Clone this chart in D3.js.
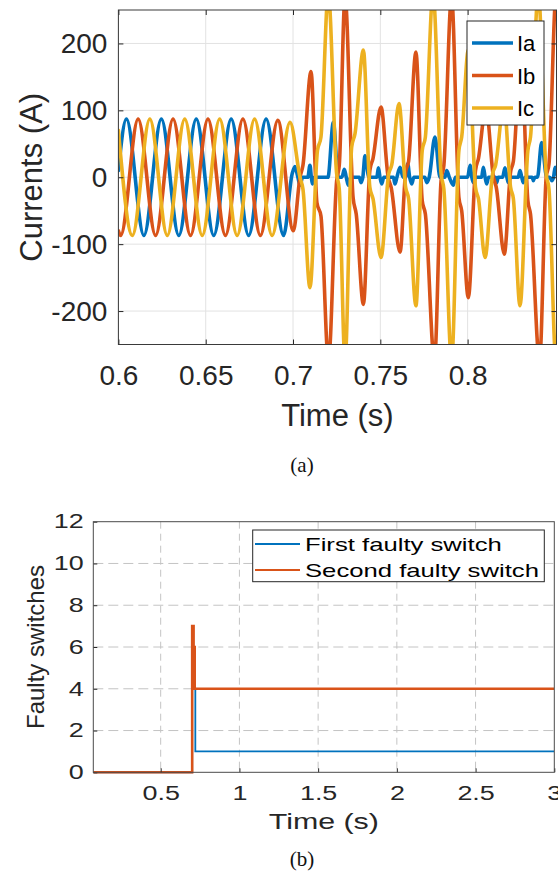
<!DOCTYPE html>
<html>
<head>
<meta charset="utf-8">
<script src="https://cdn.jsdelivr.net/npm/d3@7"></script>
<style>
  html, body { margin: 0; padding: 0; background: #fff; }
  svg { display: block; }
</style>
</head>
<body>
<script>
// ---------- (a) phase currents ----------
const timeTicksA = [0.6, 0.65, 0.7, 0.75, 0.8];
const timeTickLabelsA = ["0.6", "0.65", "0.7", "0.75", "0.8"];
const currentTicks = [-200, -100, 0, 100, 200];
const currentTickLabels = ["-200", "-100", "0", "100", "200"];
const phaseNames = ["Ia", "Ib", "Ic"];

// [time (s), current (A)] knots of each phase current
const currentIa = [
  [0.6, 10], [0.6046, 87], [0.6146, -87], [0.6246, 87], [0.6346, -87], [0.6446, 87],
  [0.6546, -87], [0.6646, 87], [0.6746, -87], [0.6846, 87], [0.6946, -87],
  [0.6995, 5], [0.7011, 16], [0.7028, 0], [0.7040, -12], [0.7055, 0], [0.7085, 0],
  [0.7097, 18], [0.7105, 0], [0.7111, -10], [0.7122, 0], [0.7200, 0], [0.7231, 82],
  [0.7259, 0], [0.7280, 0], [0.7294, 12], [0.7305, 0], [0.7317, -12], [0.7330, 0],
  [0.7380, 0], [0.7389, -8], [0.7400, 0], [0.7412, 32], [0.7435, 0], [0.7480, 0],
  [0.7489, 14], [0.7498, 0], [0.7508, -10], [0.7520, 0], [0.7575, 0], [0.7584, -10],
  [0.7595, 0], [0.7613, 15], [0.7630, 0], [0.7645, 0], [0.7657, 20], [0.7668, 0],
  [0.7680, -10], [0.7692, 0], [0.7755, 0], [0.7766, -8], [0.7780, 0], [0.7813, 60],
  [0.7842, 0], [0.7870, 0], [0.7880, 10], [0.7895, 0], [0.7918, -12], [0.7930, 0],
  [0.8000, 0], [0.8014, 18], [0.8024, 0], [0.8033, -8], [0.8045, 0], [0.8080, 0],
  [0.8090, 15], [0.8100, 0], [0.8109, -10], [0.8120, 0], [0.8160, 0], [0.8167, -8],
  [0.8175, 0], [0.8200, 0], [0.8214, 14], [0.8225, 0], [0.8233, -8], [0.8243, 0],
  [0.8290, 0], [0.8300, 10], [0.8310, 0], [0.8319, -8], [0.8330, 0], [0.8370, 0],
  [0.8376, -5], [0.8385, 0], [0.8400, 0], [0.8424, 52], [0.8453, 0], [0.8470, 0],
  [0.8482, -5], [0.8492, 0], [0.8501, 15], [0.8509, 5]
];
const currentIb = [
  [0.6, -80], [0.6013, -87], [0.6113, 87], [0.6213, -87], [0.6313, 87], [0.6413, -87],
  [0.6513, 87], [0.6613, -87], [0.6713, 87], [0.6813, -87], [0.6913, 85], [0.7002, -80],
  [0.7040, 0], [0.7057, 18], [0.7103, 158], [0.7137, -38], [0.7160, -58], [0.7203, -275],
  [0.7250, -5], [0.7265, 18], [0.7298, 270], [0.7344, -30], [0.7362, -55], [0.7403, -190],
  [0.7440, 10], [0.7458, 28], [0.7504, 105], [0.7545, 0], [0.7562, -15], [0.7613, -112],
  [0.7645, 8], [0.7662, 24], [0.7704, 187], [0.7740, -35], [0.7758, -55], [0.7810, -275],
  [0.7848, -5], [0.7864, 18], [0.7908, 270], [0.7950, -30], [0.7966, -50], [0.8004, -180],
  [0.8045, 10], [0.8062, 28], [0.8105, 105], [0.8148, 0], [0.8164, -15], [0.8210, -115],
  [0.8246, 8], [0.8262, 24], [0.8306, 187], [0.8345, -35], [0.8360, -55], [0.8412, -275],
  [0.8450, 0], [0.8466, 20], [0.8506, 270], [0.8509, 268]
];
const currentIc = [
  [0.6, 70], [0.608, -87], [0.618, 87], [0.628, -87], [0.638, 87], [0.648, -87],
  [0.658, 87], [0.668, -87], [0.678, 87], [0.688, -87], [0.6983, 82],
  [0.7040, 0], [0.7057, -18], [0.7097, -165], [0.7140, 40], [0.7160, 60], [0.7202, 275],
  [0.7250, 5], [0.7265, -18], [0.7298, -275], [0.7336, 45], [0.7355, 65], [0.7403, 190],
  [0.7440, -15], [0.7458, -32], [0.7504, -120], [0.7548, 5], [0.7565, 18], [0.7607, 110],
  [0.7645, -15], [0.7662, -32], [0.7704, -192], [0.7740, 40], [0.7758, 60], [0.7802, 275],
  [0.7848, 5], [0.7864, -18], [0.7908, -275], [0.7950, 40], [0.7966, 60], [0.8004, 190],
  [0.8045, -15], [0.8062, -32], [0.8100, -120], [0.8143, 5], [0.8160, 18], [0.8208, 110],
  [0.8246, -15], [0.8262, -32], [0.8300, -192], [0.8345, 40], [0.8360, 60], [0.8405, 275],
  [0.8450, 5], [0.8466, -18], [0.8506, -275], [0.8509, -270]
];
const phaseColors = ["#0072BD", "#D95319", "#EDB120"];

// ---------- (b) faulty switch indices ----------
const timeTicksB = [0.5, 1, 1.5, 2, 2.5, 3];
const timeTickLabelsB = ["0.5", "1", "1.5", "2", "2.5", "3"];
const switchTicks = [0, 2, 4, 6, 8, 10, 12];
const switchNames = ["First faulty switch", "Second faulty switch"];
const firstSwitchTime = [0.072, 0.700, 0.720, 3.0];
const firstSwitchValue = [0, 4, 1, 1];
const secondSwitchTime = [0.072, 0.700, 0.709, 0.716, 3.0];
const secondSwitchValue = [0, 7, 6, 4, 4];
const switchColors = ["#0072BD", "#D95319"];

const W = 558, H = 875;
const SANS = "'Liberation Sans', Arial, Helvetica, sans-serif";
const SERIF = "'Liberation Serif', 'Times New Roman', serif";
const INK = "#262626";

const svg = d3.select("body").append("svg").attr("width", W).attr("height", H);
svg.append("rect").attr("width", W).attr("height", H).attr("fill", "#fff");

// ================= panel (a) =================
const A = { left: 118.4, right: 556.5, top: 10, bottom: 344.5 };
const xA = d3.scaleLinear().domain([0.6, 0.8509]).range([A.left, A.right]);
const yA = d3.scaleLinear().domain([-250, 250]).range([A.bottom, A.top]);
const gA = svg.append("g");

// grid
gA.append("g").selectAll("line").data(timeTicksA).join("line")
  .attr("x1", d => xA(d)).attr("x2", d => xA(d))
  .attr("y1", A.top).attr("y2", A.bottom)
  .attr("stroke", "#e2e2e2").attr("stroke-width", 1);
gA.append("g").selectAll("line").data(currentTicks).join("line")
  .attr("x1", A.left).attr("x2", A.right)
  .attr("y1", d => yA(d)).attr("y2", d => yA(d))
  .attr("stroke", "#e2e2e2").attr("stroke-width", 1);

// curves
svg.append("clipPath").attr("id", "clipA").append("rect")
  .attr("x", A.left).attr("y", A.top)
  .attr("width", A.right - A.left).attr("height", A.bottom - A.top);
const lineA = d3.line().x(d => xA(d[0])).y(d => yA(d[1])).curve(d3.curveMonotoneX);
const phaseData = [currentIa, currentIb, currentIc];
gA.append("g").attr("clip-path", "url(#clipA)")
  .selectAll("path").data(phaseData).join("path")
  .attr("d", lineA).attr("fill", "none")
  .attr("stroke", (d, i) => phaseColors[i])
  .attr("stroke-width", 3.6)
  .attr("stroke-linejoin", "round").attr("stroke-linecap", "round");

// axes
function styleAxis(g, size) {
  g.select(".domain").remove();
  g.selectAll(".tick line").attr("stroke", INK);
  g.selectAll("text").attr("fill", INK).style("font-family", SANS).style("font-size", size + "px");
}
gA.append("g").attr("transform", `translate(0,${A.bottom})`)
  .call(d3.axisBottom(xA).tickValues(timeTicksA).tickFormat((d, i) => timeTickLabelsA[i])
    .tickSizeInner(-5).tickSizeOuter(0).tickPadding(21))
  .call(g => styleAxis(g, 28));
gA.append("g").attr("transform", `translate(0,${A.top})`)
  .call(d3.axisTop(xA).tickValues(timeTicksA).tickFormat("").tickSizeInner(-5).tickSizeOuter(0))
  .call(g => styleAxis(g, 28));
gA.append("g").attr("transform", `translate(${A.left},0)`)
  .call(d3.axisLeft(yA).tickValues(currentTicks).tickFormat((d, i) => currentTickLabels[i])
    .tickSizeInner(-5).tickSizeOuter(0).tickPadding(11))
  .call(g => styleAxis(g, 28));
gA.append("g").attr("transform", `translate(${A.right},0)`)
  .call(d3.axisRight(yA).tickValues(currentTicks).tickFormat("").tickSizeInner(-5).tickSizeOuter(0))
  .call(g => styleAxis(g, 28));
gA.append("rect").attr("x", A.left).attr("y", A.top)
  .attr("width", A.right - A.left).attr("height", A.bottom - A.top)
  .attr("fill", "none").attr("stroke", "#3a3a3a").attr("stroke-width", 1);

// labels
gA.append("text").attr("x", (A.left + A.right) / 2).attr("y", 426)
  .attr("text-anchor", "middle").attr("fill", INK)
  .style("font-family", SANS).style("font-size", "31px").text("Time (s)");
gA.append("text").attr("transform", `translate(42,${(A.top + A.bottom) / 2}) rotate(-90)`)
  .attr("text-anchor", "middle").attr("fill", INK)
  .style("font-family", SANS).style("font-size", "31px").text("Currents (A)");
gA.append("text").attr("x", 302).attr("y", 472)
  .attr("text-anchor", "middle").attr("fill", "#111")
  .style("font-family", SERIF).style("font-size", "21px").text("(a)");

// legend
const legA = gA.append("g");
legA.append("rect").attr("x", 467).attr("y", 21).attr("width", 77).attr("height", 104)
  .attr("fill", "#fff").attr("stroke", INK).attr("stroke-width", 1);
const legRowsA = legA.selectAll("g").data(phaseNames).join("g")
  .attr("transform", (d, i) => `translate(0,${43 + i * 32.5})`);
legRowsA.append("line").attr("x1", 472).attr("x2", 513).attr("y1", 0).attr("y2", 0)
  .attr("stroke", (d, i) => phaseColors[i]).attr("stroke-width", 3.6);
legRowsA.append("text").attr("x", 517).attr("y", 8).attr("fill", "#000")
  .style("font-family", SANS).style("font-size", "22px").text(d => d);

// ================= panel (b) =================
const B = { left: 93.3, right: 554.3, top: 521.7, bottom: 772.3 };
const SX = 1.38; // horizontal text stretch of this panel
const xB = d3.scaleLinear().domain([0.072, 3]).range([B.left, B.right]);
const yB = d3.scaleLinear().domain([0, 12]).range([B.bottom, B.top]);
const gB = svg.append("g");

gB.append("g").selectAll("line").data(timeTicksB.filter(d => d < 3)).join("line")
  .attr("x1", d => xB(d)).attr("x2", d => xB(d))
  .attr("y1", B.top).attr("y2", B.bottom)
  .attr("stroke", "#c4c4c4").attr("stroke-width", 1).attr("stroke-dasharray", "7,5");
gB.append("g").selectAll("line").data(switchTicks.filter(d => d > 0 && d < 12)).join("line")
  .attr("x1", B.left).attr("x2", B.right)
  .attr("y1", d => yB(d)).attr("y2", d => yB(d))
  .attr("stroke", "#c4c4c4").attr("stroke-width", 1).attr("stroke-dasharray", "10,5");

svg.append("clipPath").attr("id", "clipB").append("rect")
  .attr("x", B.left).attr("y", B.top - 2)
  .attr("width", B.right - B.left).attr("height", B.bottom - B.top + 4);
const stepLine = d3.line().x(d => xB(d[0])).y(d => yB(d[1])).curve(d3.curveStepAfter);
const firstSeries = firstSwitchTime.map((t, i) => [t, firstSwitchValue[i]]);
const secondSeries = secondSwitchTime.map((t, i) => [t, secondSwitchValue[i]]);
const gLinesB = gB.append("g").attr("clip-path", "url(#clipB)");
gLinesB.append("path").attr("d", stepLine(firstSeries)).attr("fill", "none")
  .attr("stroke", switchColors[0]).attr("stroke-width", 1.8);
gLinesB.append("path").attr("d", stepLine(secondSeries)).attr("fill", "none")
  .attr("stroke", switchColors[1]).attr("stroke-width", 2.6);

gB.append("g").attr("transform", `translate(0,${B.bottom})`)
  .call(d3.axisBottom(xB).tickValues(timeTicksB).tickFormat((d, i) => timeTickLabelsB[i])
    .tickSizeInner(-4).tickSizeOuter(0).tickPadding(14))
  .call(g => styleAxis(g, 19.5))
  .call(g => g.selectAll("text").attr("transform", `scale(${SX},1)`));
gB.append("g").attr("transform", `translate(${B.left},0)`)
  .call(d3.axisLeft(yB).tickValues(switchTicks).tickFormat(d3.format("d"))
    .tickSizeInner(-4).tickSizeOuter(0).tickPadding(7))
  .call(g => styleAxis(g, 19.5))
  .call(g => g.selectAll("text").attr("transform", `scale(${SX},1)`));
gB.append("rect").attr("x", B.left).attr("y", B.top)
  .attr("width", B.right - B.left).attr("height", B.bottom - B.top)
  .attr("fill", "none").attr("stroke", "#4a4a4a").attr("stroke-width", 1);

gB.append("text").attr("transform", `translate(${(B.left + B.right) / 2},829) scale(${SX},1)`)
  .attr("text-anchor", "middle").attr("fill", INK)
  .style("font-family", SANS).style("font-size", "22px").text("Time (s)");
gB.append("text").attr("transform", `translate(44,${(B.top + B.bottom) / 2}) rotate(-90)`)
  .attr("text-anchor", "middle").attr("fill", INK)
  .style("font-family", SANS).style("font-size", "24px").text("Faulty switches");
gB.append("text").attr("x", 302).attr("y", 866)
  .attr("text-anchor", "middle").attr("fill", "#111")
  .style("font-family", SERIF).style("font-size", "21px").text("(b)");

const legB = gB.append("g");
legB.append("rect").attr("x", 252.7).attr("y", 530).attr("width", 291.6).attr("height", 51.7)
  .attr("fill", "#fff").attr("stroke", INK).attr("stroke-width", 1);
const legRowsB = legB.selectAll("g").data(switchNames).join("g")
  .attr("transform", (d, i) => `translate(0,${544 + i * 26})`);
legRowsB.append("line").attr("x1", 255).attr("x2", 300).attr("y1", 0).attr("y2", 0)
  .attr("stroke", (d, i) => switchColors[i]).attr("stroke-width", 2);
legRowsB.append("text").attr("transform", `translate(305,6.7) scale(${SX},1)`)
  .attr("fill", "#000").style("font-family", SANS).style("font-size", "18.6px").text(d => d);
</script>
</body>
</html>
